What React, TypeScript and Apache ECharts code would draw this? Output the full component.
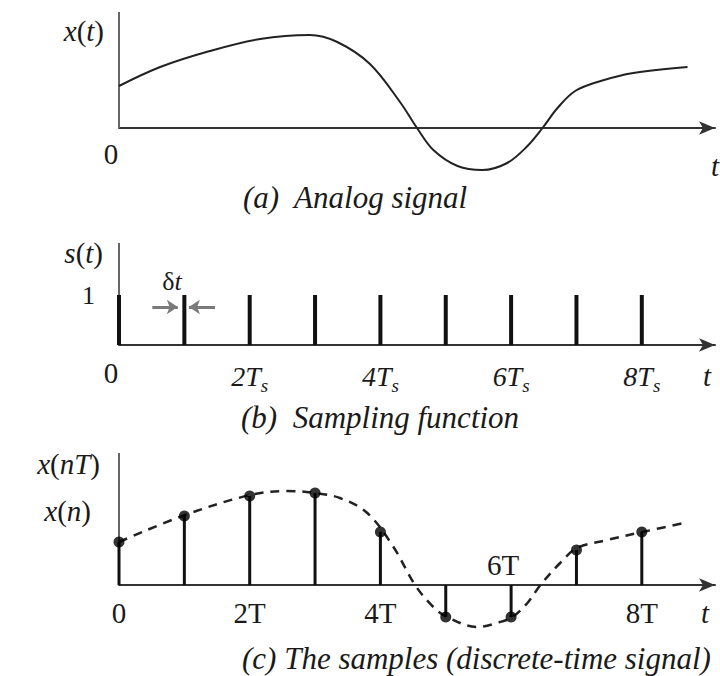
import React, { useEffect, useRef } from "react";
import * as echarts from "echarts";

const FONT = "'Liberation Serif', 'Times New Roman', serif";
const INK = "#1a1a1a";

// Shared time axis, in units of the sampling period T
const X_MAX = 9.12;

// (a) analog signal x(t)
const analogT = [0, 0.63, 1.39, 2.16, 2.92, 3.34, 3.84, 4.3, 4.56, 4.81, 5.18, 5.56, 5.94, 6.25, 6.48, 6.71, 6.98, 7.37, 7.87, 8.7];
const analogX = [0.42, 0.61, 0.77, 0.89, 0.93, 0.86, 0.64, 0.26, 0, -0.22, -0.38, -0.42, -0.35, -0.18, 0, 0.2, 0.37, 0.47, 0.55, 0.61];

// (b) sampling function s(t)
const impulseN = [0, 1, 2, 3, 4, 5, 6, 7, 8];
const impulseS = [1, 1, 1, 1, 1, 1, 1, 1, 1];
const deltaArrowY = 0.76;
const deltaArrowLeft = [0.51, 0.9];
const deltaArrowRight = [1.47, 1.07];

// (c) samples x(nT)
const sampleN = [0, 1, 2, 3, 4, 5, 6, 7, 8];
const sampleX = [0.43, 0.69, 0.89, 0.92, 0.53, -0.32, -0.32, 0.35, 0.53];
const envelopeT = [0, 1.01, 2.01, 2.57, 3.0, 3.38, 3.8, 4.2, 4.53, 4.81, 5.02, 5.48, 5.83, 6.02, 6.25, 6.45, 6.75, 7.01, 7.47, 8.01, 8.64];
const envelopeX = [0.43, 0.7, 0.9, 0.94, 0.92, 0.87, 0.72, 0.38, 0, -0.22, -0.32, -0.42, -0.37, -0.32, -0.18, 0, 0.22, 0.37, 0.45, 0.53, 0.62];

// axis ranges
const yA = [-0.5, 1.16];
const yB = [0, 2.04];
const yC = [-0.5, 1.32];

// tick labels
const ticksB: Record<number, string> = { 0: "0", 2: "2", 4: "4", 6: "6", 8: "8" };
const ticksC: Record<number, string> = { 0: "0", 2: "2T", 4: "4T", 8: "8T" };

const zip = (a: number[], b: number[]) => a.map((v, i) => [v, b[i]]);

// grid layout (pixels)
const GRID_A = { left: 119, right: 5, top: 12, height: 166 };
const GRID_B = { left: 119, right: 5, top: 243, height: 102 };
const GRID_C = { left: 119, right: 5, top: 453, height: 182 };
// distance from the grid bottom up to the zero line
const zeroOffset = (g: { height: number }, r: number[]) => -(g.height * (0 - r[0])) / (r[1] - r[0]);

export default function App() {
  const ref = useRef<HTMLDivElement>(null);
  useEffect(() => {
    if (!ref.current) return;
    const chart = echarts.init(ref.current, null, { renderer: "svg" });

    const xAxis = (gridIndex: number, offset: number, axisLabel: any) => ({
      type: "value",
      gridIndex,
      min: 0,
      max: X_MAX,
      interval: 1,
      offset,
      axisLine: {
        onZero: false,
        lineStyle: { color: "#333", width: 2 },
        symbol: ["none", "arrow"],
        symbolSize: [10, 16],
      },
      axisTick: { show: false },
      splitLine: { show: false },
      axisLabel: {
        fontFamily: FONT,
        fontSize: 29,
        color: INK,
        showMaxLabel: false,
        ...axisLabel,
      },
    });

    const yAxis = (gridIndex: number, r: number[], axisLabel: any = { show: false }) => ({
      type: "value",
      gridIndex,
      min: r[0],
      max: r[1],
      interval: 1,
      axisLine: { show: false },
      axisTick: { show: false },
      splitLine: { show: false },
      axisLabel,
    });

    const yLine = (idx: number, top: number, color: string) => ({
      type: "line",
      xAxisIndex: idx,
      yAxisIndex: idx,
      data: [[0, 0], [0, top]],
      symbol: "none",
      lineStyle: { color, width: 2 },
      silent: true,
      z: 1,
    });

    const txt = (text: string, x: number, y: number, extra: any = {}) => ({
      type: "text",
      x,
      y,
      style: {
        text,
        fontFamily: FONT,
        fontSize: 29,
        fill: INK,
        align: "center",
        verticalAlign: "middle",
        ...extra,
      },
    });

    const richFn = {
      i: { fontFamily: FONT, fontSize: 29, fontStyle: "italic", color: INK },
      p: { fontFamily: FONT, fontSize: 29, color: INK },
    };
    const fnText = (text: string, x: number, y: number) => ({
      type: "text",
      x,
      y,
      style: {
        text,
        rich: richFn,
        fill: INK,
        align: "right",
        verticalAlign: "middle",
        fontFamily: FONT,
        fontSize: 29,
      },
    });

    const zeroRich = { z: { fontFamily: FONT, fontSize: 29, color: INK, padding: [0, 16, 0, 0] } };

    chart.setOption({
      animation: false,
      backgroundColor: "#fff",
      grid: [GRID_A, GRID_B, GRID_C],
      xAxis: [
        xAxis(0, zeroOffset(GRID_A, yA), {
          margin: 11,
          formatter: (v: number) => (v === 0 ? "{z|0}" : ""),
          rich: zeroRich,
        }),
        xAxis(1, 0, {
          margin: 13,
          formatter: (v: number) => {
            const t = ticksB[v];
            if (t === undefined) return "";
            if (t === "0") return "{z|0}";
            return `{n|${t}}{it|T}{sub|s}`;
          },
          rich: {
            ...zeroRich,
            n: { fontFamily: FONT, fontSize: 28, fontStyle: "italic", color: INK },
            it: { fontFamily: FONT, fontSize: 28, fontStyle: "italic", color: INK },
            sub: { fontFamily: FONT, fontSize: 19, fontStyle: "italic", color: INK, padding: [18, 0, 0, 0], verticalAlign: "top" },
          },
        }),
        xAxis(2, zeroOffset(GRID_C, yC), {
          margin: 13,
          formatter: (v: number) => ticksC[v] ?? "",
        }),
      ],
      yAxis: [
        yAxis(0, yA),
        yAxis(1, yB, {
          show: true,
          margin: 24,
          fontFamily: FONT,
          fontSize: 26,
          color: INK,
          formatter: (v: number) => (v === 1 ? "1" : ""),
        }),
        yAxis(2, yC),
      ],
      series: [
        yLine(0, yA[1], "#666"),
        {
          type: "line",
          xAxisIndex: 0,
          yAxisIndex: 0,
          data: zip(analogT, analogX),
          smooth: 0.35,
          symbol: "none",
          lineStyle: { color: "#222", width: 2 },
          z: 3,
        },
        yLine(1, yB[1], "#666"),
        {
          type: "bar",
          xAxisIndex: 1,
          yAxisIndex: 1,
          data: zip(impulseN, impulseS),
          barWidth: 4,
          itemStyle: { color: "#111" },
          z: 3,
        },
        {
          type: "lines",
          coordinateSystem: "cartesian2d",
          xAxisIndex: 1,
          yAxisIndex: 1,
          symbol: ["none", "arrow"],
          symbolSize: 11,
          lineStyle: { color: "#7a7a7a", width: 3, opacity: 1 },
          data: [
            { coords: [[deltaArrowLeft[0], deltaArrowY], [deltaArrowLeft[1], deltaArrowY]] },
            { coords: [[deltaArrowRight[0], deltaArrowY], [deltaArrowRight[1], deltaArrowY]] },
          ],
          z: 4,
        },
        yLine(2, yC[1], "#666"),
        {
          type: "line",
          xAxisIndex: 2,
          yAxisIndex: 2,
          data: zip(envelopeT, envelopeX),
          smooth: 0.35,
          symbol: "none",
          lineStyle: { color: "#222", width: 2.5, type: [9, 7] },
          z: 2,
        },
        {
          type: "bar",
          xAxisIndex: 2,
          yAxisIndex: 2,
          data: zip(sampleN, sampleX),
          barWidth: 3,
          itemStyle: { color: "#111" },
          z: 3,
        },
        {
          type: "scatter",
          xAxisIndex: 2,
          yAxisIndex: 2,
          data: zip(sampleN, sampleX),
          symbolSize: 11,
          itemStyle: { color: "#000" },
          z: 5,
        },
      ],
      graphic: [
        fnText("{i|x}{p|(}{i|t}{p|)}", 104, 31),
        txt("(a)  Analog signal", 243, 197, { align: "left", fontStyle: "italic", fontSize: 31 }),
        txt("t", 711, 166, { align: "left", fontStyle: "italic" }),
        fnText("{i|s}{p|(}{i|t}{p|)}", 103, 253),
        txt("{p|δ}{i|t}", 172, 281, { rich: { p: { fontFamily: FONT, fontSize: 26, color: INK }, i: { fontFamily: FONT, fontSize: 26, fontStyle: "italic", color: INK } } }),
        txt("t", 707, 376, { fontStyle: "italic" }),
        txt("(b)  Sampling function", 241, 417, { align: "left", fontStyle: "italic", fontSize: 31 }),
        fnText("{i|x}{p|(}{i|nT}{p|)}", 100, 464),
        fnText("{i|x}{p|(}{i|n}{p|)}", 91, 511),
        txt("6T", 503, 565),
        txt("t", 705, 613, { fontStyle: "italic" }),
        txt("(c) The samples (discrete-time signal)", 242, 658, { align: "left", fontStyle: "italic", fontSize: 31 }),
      ],
    });
    return () => chart.dispose();
  }, []);
  return <div ref={ref} style={{ position: "fixed", left: 0, top: 0, width: 720, height: 676 }} />;
}
